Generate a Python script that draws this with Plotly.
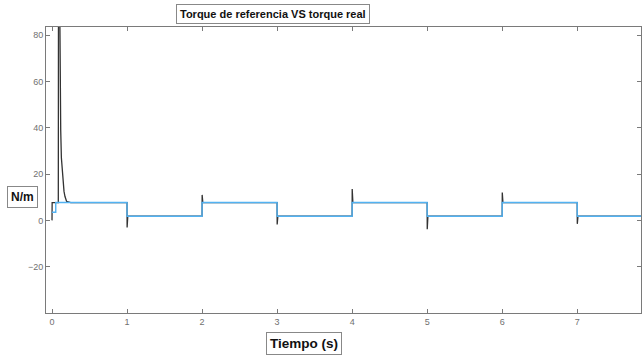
import plotly.graph_objects as go

# Reference torque: piecewise-constant setpoint (N/m), held until the next change
ref_t = [0.0, 0.05, 1.0, 2.0, 3.0, 4.0, 5.0, 6.0, 7.0, 8.0]
ref_v = [3.5, 7.7, 1.8, 7.7, 1.8, 7.7, 1.8, 7.7, 1.8, 1.8]

# Measured torque: start-up spike and short transients at each setpoint change
real_t = [0.0, 0.002, 0.084, 0.088, 0.095, 0.104, 0.108, 0.116, 0.125, 0.142, 0.16, 0.173, 0.195, 0.25,
          1.0, 1.001, 1.01,
          2.0, 2.001, 2.01,
          3.0, 3.001, 3.01,
          4.0, 4.001, 4.01,
          5.0, 5.001, 5.01,
          6.0, 6.001, 6.01,
          7.0, 7.001, 7.01,
          8.0]
real_v = [0.0, 7.7, 7.7, 160.0, 150.0, 90.0, 60.0, 39.0, 27.0, 17.5, 12.5, 10.3, 8.2, 7.7,
          7.7, -3.1, 1.8,
          1.8, 11.0, 7.7,
          7.7, -1.8, 1.8,
          1.8, 13.5, 7.7,
          7.7, -3.8, 1.8,
          1.8, 12.0, 7.7,
          7.7, -1.5, 1.8,
          1.8]

x_ticks = [0, 1, 2, 3, 4, 5, 6, 7]
y_ticks = [-20, 0, 20, 40, 60, 80]

fig = go.Figure()
fig.add_trace(go.Scatter(x=real_t, y=real_v, mode="lines",
                         line=dict(color="#333333", width=1.3), showlegend=False))
fig.add_trace(go.Scatter(x=ref_t, y=ref_v, mode="lines", line_shape="hv",
                         line=dict(color="#52b2f2", width=1.4), showlegend=False))

axis_common = dict(showgrid=False, zeroline=False, showline=True, linecolor="#7a7a7a",
                   linewidth=1, mirror="ticks", ticks="inside", ticklen=4,
                   tickcolor="#7a7a7a", tickfont=dict(family="Liberation Sans", size=9, color="#707070"))

fig.update_xaxes(range=[-0.08, 7.85], tickvals=x_ticks, **axis_common)
fig.update_yaxes(range=[-40, 83.5], tickvals=y_ticks, **axis_common)

box_style = dict(xref="paper", yref="paper", showarrow=False,
                 xanchor="center", yanchor="middle",
                 bordercolor="#888888", borderwidth=1, borderpad=3, bgcolor="white")
fig.add_annotation(text="<b>Torque de referencia VS torque real</b>", x=0.3815, y=1.045,
                   font=dict(family="Liberation Sans", size=11, color="#111111"), **box_style)
fig.add_annotation(text="<b>N/m</b>", x=-0.0387, y=0.406,
                   font=dict(family="Liberation Sans", size=12, color="#111111"), **box_style)
fig.add_annotation(text="<b>Tiempo (s)</b>", x=0.4336, y=-0.105,
                   font=dict(family="Liberation Sans", size=13.5, color="#111111"), **box_style)

fig.update_layout(width=642, height=356, margin=dict(l=46, r=1, t=27, b=43),
                  plot_bgcolor="white", paper_bgcolor="white")

fig.write_html("out.html")
